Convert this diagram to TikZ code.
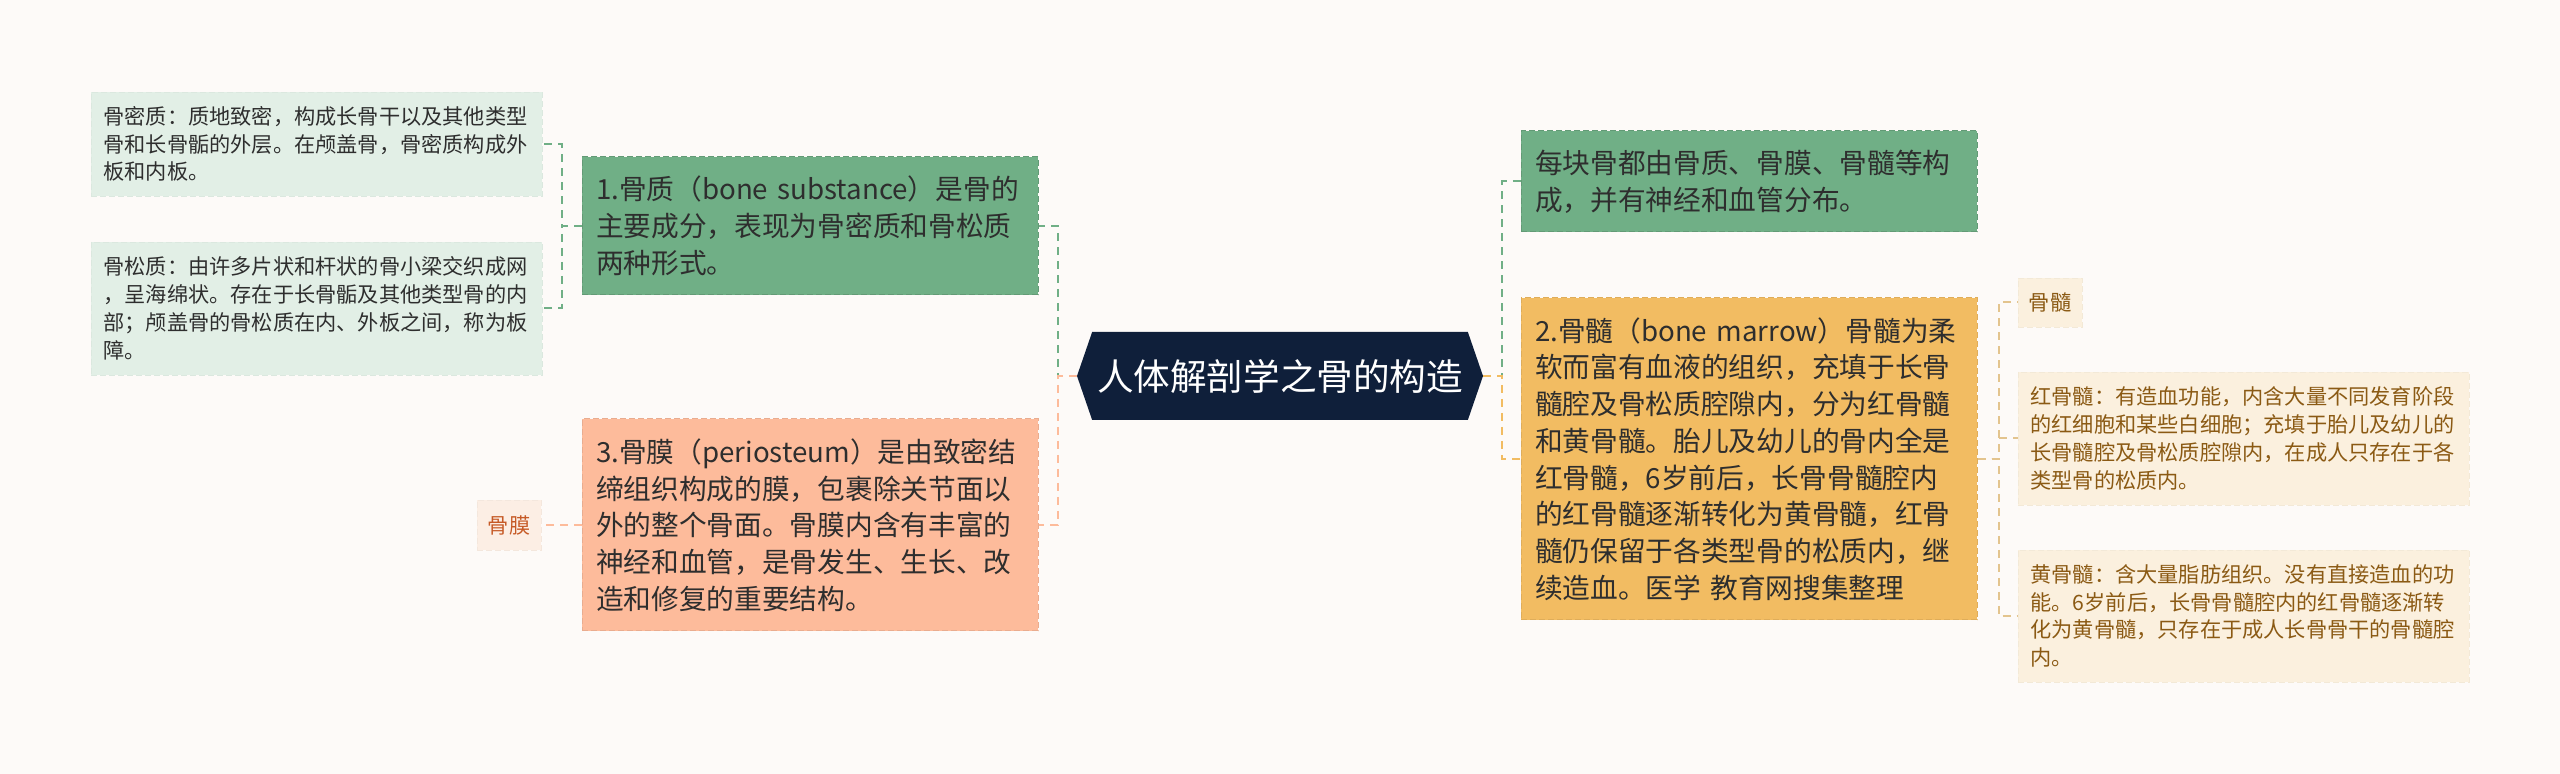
\documentclass[tikz,border=0pt]{standalone}
\usepackage{fontspec}
\setmainfont{Noto Sans CJK SC}
\usetikzlibrary{shapes.symbols}
\definecolor{bg}{HTML}{FDFAF8}
\definecolor{navy}{HTML}{0F1F3A}
\definecolor{grn}{HTML}{70AF86}
\definecolor{grnleaf}{HTML}{E2EFE6}
\definecolor{salm}{HTML}{FDBB9B}
\definecolor{salmleaf}{HTML}{FCEEE4}
\definecolor{salmtext}{HTML}{C65A26}
\definecolor{yel}{HTML}{F2BC62}
\definecolor{yelleaf}{HTML}{FBF0DE}
\definecolor{yeltext}{HTML}{8B5A14}
\definecolor{yellink}{HTML}{E3C48E}
\definecolor{txt}{HTML}{2E2E2E}

\begin{document}
\begin{tikzpicture}[x=0.5pt,y=-0.5pt,
  box/.style={shape=rectangle,align=left,text width=214pt,inner xsep=7pt,inner ysep=0pt,
    text=txt,font=\fontsize{13.85pt}{18.35pt}\selectfont,
    dash pattern=on 3pt off 1.5pt,line width=0.5pt},
  leaf/.style={shape=rectangle,align=left,text width=213pt,inner xsep=6.25pt,inner ysep=0pt,
    text=txt,font=\fontsize{10.6pt}{13.9pt}\selectfont,
    dash pattern=on 3pt off 1.5pt,line width=0.4pt},
  tag/.style={shape=rectangle,minimum width=32pt,inner sep=0pt,
    font=\fontsize{10.6pt}{13.9pt}\selectfont,
    dash pattern=on 3pt off 1.5pt,line width=0.4pt},
  link/.style={dash pattern=on 4pt off 3pt,line width=1pt}]

\fill[bg] (0,0) rectangle (2560,774);
\useasboundingbox (0,0) rectangle (2560,774);

% centre
\node[shape=signal,signal to=west and east,signal pointer angle=142,fill=navy,text=white,
  minimum width=203pt,minimum height=44pt,inner sep=0pt,
  font=\fontsize{18.3pt}{22pt}\selectfont] (0) at (1280,376){人体解剖学之骨的构造};

% left side
\node[box,fill=grn,draw=grn!88!black,minimum height=69pt] (1) at (810,226)
  {1.骨质（bone substance）是骨的\\主要成分，表现为骨密质和骨松质\\两种形式。};
\node[leaf,fill=grnleaf,draw=grnleaf!97!black,minimum height=52pt] (2) at (316.5,144)
  {骨密质：质地致密，构成长骨干以及其他类型\\骨和长骨骺的外层。在颅盖骨，骨密质构成外\\板和内板。};
\node[leaf,fill=grnleaf,draw=grnleaf!97!black,minimum height=66.5pt] (3) at (316.5,308.5)
  {骨松质：由许多片状和杆状的骨小梁交织成网\\，呈海绵状。存在于长骨骺及其他类型骨的内\\部；颅盖骨的骨松质在内、外板之间，称为板\\障。};
\node[box,fill=salm,draw=salm!92!black,minimum height=106pt] (4) at (810,525)
  {3.骨膜（periosteum）是由致密结\\缔组织构成的膜，包裹除关节面以\\外的整个骨面。骨膜内含有丰富的\\神经和血管，是骨发生、生长、改\\造和修复的重要结构。};
\node[tag,fill=salmleaf,draw=salmleaf!97!black,text=salmtext,minimum height=25pt] (5) at (509,525){骨膜};

% right side
\node[box,fill=grn,draw=grn!88!black,minimum height=50.5pt] (6) at (1749,181.5)
  {每块骨都由骨质、骨膜、骨髓等构\\成，并有神经和血管分布。};
\node[box,fill=yel,draw=yel!92!black,minimum height=161pt] (7) at (1749,459)
  {2.骨髓（bone marrow）骨髓为柔\\软而富有血液的组织，充填于长骨\\髓腔及骨松质腔隙内，分为红骨髓\\和黄骨髓。胎儿及幼儿的骨内全是\\红骨髓，6岁前后，长骨骨髓腔内\\的红骨髓逐渐转化为黄骨髓，红骨\\髓仍保留于各类型骨的松质内，继\\续造血。医学 教育网搜集整理};
\node[tag,fill=yelleaf,draw=yelleaf!97!black,text=yeltext,minimum height=24.5pt] (8) at (2050,302.5){骨髓};
\node[leaf,fill=yelleaf,draw=yelleaf!97!black,text=yeltext,minimum height=66.5pt] (9) at (2243.5,438.5)
  {红骨髓：有造血功能，内含大量不同发育阶段\\的红细胞和某些白细胞；充填于胎儿及幼儿的\\长骨髓腔及骨松质腔隙内，在成人只存在于各\\类型骨的松质内。};
\node[leaf,fill=yelleaf,draw=yelleaf!97!black,text=yeltext,minimum height=66pt] (10) at (2243.5,616)
  {黄骨髓：含大量脂肪组织。没有直接造血的功\\能。6岁前后，长骨骨髓腔内的红骨髓逐渐转\\化为黄骨髓，只存在于成人长骨骨干的骨髓腔\\内。};

% links
\draw[link,grn] (0.west) -- ++(-19,0) |- (1.east);
\draw[link,salm] (0.west) -- ++(-19,0) |- (4.east);
\draw[link,grn] (1.west) -- ++(-20,0) |- (2.east);
\draw[link,grn] (1.west) -- ++(-20,0) |- (3.east);
\draw[link,salm] (4.west) -- (5.east);
\draw[link,grn] (0.east) -- ++(19,0) |- (6.west);
\draw[link,yel] (0.east) -- ++(19,0) |- (7.west);
\draw[link,yellink] (7.east) -- ++(21,0) |- (8.west);
\draw[link,yellink] (7.east) -- ++(21,0) |- (9.west);
\draw[link,yellink] (7.east) -- ++(21,0) |- (10.west);

\end{tikzpicture}
\end{document}
